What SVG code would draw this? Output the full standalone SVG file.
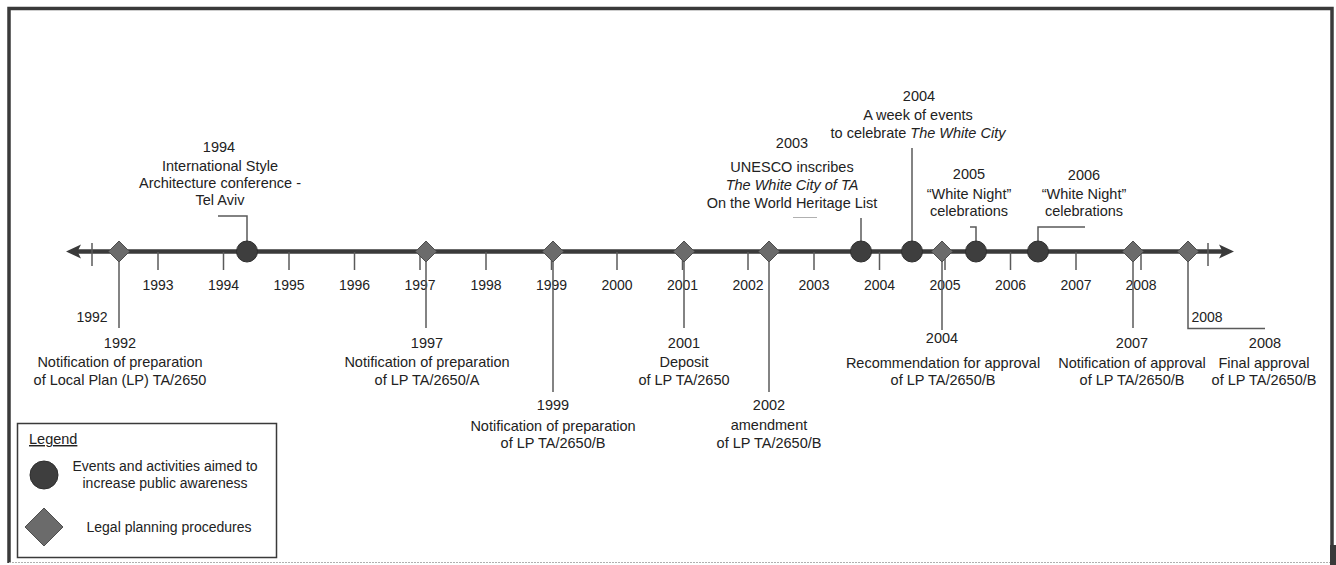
<svg xmlns="http://www.w3.org/2000/svg" width="1336" height="565" viewBox="0 0 1336 565">
  <style>
    text { font-family: "Liberation Sans", Arial, sans-serif; font-size: 14.5px; fill: #222222; text-anchor: middle; }
    .yr { font-size: 14px; }
    .it { font-style: italic; }
    .axis { stroke: #3a3a3a; stroke-width: 4.5; fill: none; }
    .tick { stroke: #5a5a5a; stroke-width: 1.5; }
    .lead { stroke: #5a5a5a; stroke-width: 1.5; fill: none; }
    .faint { stroke: #b0b0b0; stroke-width: 1; fill: none; }
    .legal { fill: #6b6b6b; stroke: #4e4e4e; stroke-width: 1; }
    .event { fill: #3e3e3e; stroke: #2e2e2e; stroke-width: 1; }
    .frame { fill: none; stroke: #3a3a3a; }
  </style>
  <defs>
    <path id="diamond" d="M0,-10.5 L10.5,0 L0,10.5 L-10.5,0 Z"/>
  </defs>

  <rect width="1336" height="565" fill="#ffffff"/>

  <!-- outer frame -->
  <g id="frame">
    <path class="frame" stroke-width="3.5" d="M9,563 L9,8.5 L1332,8.5 L1332,545"/>
    <line class="faint" x1="9" y1="562.5" x2="1330" y2="562.5" stroke-dasharray="2,1"/>
    <rect x="1330" y="545" width="6" height="20" fill="#3a3a3a"/>
  </g>

  <!-- time axis with year ticks -->
  <g id="axis">
    <line class="axis" x1="74" y1="251.5" x2="1226" y2="251.5"/>
    <path d="M66,251.5 L81,244.5 L77.5,251.5 L81,258.5 Z" fill="#3a3a3a"/>
    <path d="M1234,251.5 L1219,244.5 L1222.5,251.5 L1219,258.5 Z" fill="#3a3a3a"/>
    <line class="tick" x1="92" y1="243" x2="92" y2="266"/>
    <line class="tick" x1="1208" y1="243" x2="1208" y2="266"/>
    <g class="ticks">
      <line class="tick" x1="158" y1="252" x2="158" y2="270"/>
      <line class="tick" x1="223.5" y1="252" x2="223.5" y2="270"/>
      <line class="tick" x1="289" y1="252" x2="289" y2="270"/>
      <line class="tick" x1="354.5" y1="252" x2="354.5" y2="270"/>
      <line class="tick" x1="420" y1="252" x2="420" y2="270"/>
      <line class="tick" x1="486" y1="252" x2="486" y2="270"/>
      <line class="tick" x1="551.5" y1="252" x2="551.5" y2="270"/>
      <line class="tick" x1="617" y1="252" x2="617" y2="270"/>
      <line class="tick" x1="682.5" y1="252" x2="682.5" y2="270"/>
      <line class="tick" x1="748" y1="252" x2="748" y2="270"/>
      <line class="tick" x1="814" y1="252" x2="814" y2="270"/>
      <line class="tick" x1="879.5" y1="252" x2="879.5" y2="270"/>
      <line class="tick" x1="945" y1="252" x2="945" y2="270"/>
      <line class="tick" x1="1010.5" y1="252" x2="1010.5" y2="270"/>
      <line class="tick" x1="1076" y1="252" x2="1076" y2="270"/>
      <line class="tick" x1="1141" y1="252" x2="1141" y2="270"/>
    </g>
    <g class="years">
      <text class="yr" x="158" y="290">1993</text>
      <text class="yr" x="223.5" y="290">1994</text>
      <text class="yr" x="289" y="290">1995</text>
      <text class="yr" x="354.5" y="290">1996</text>
      <text class="yr" x="420" y="290">1997</text>
      <text class="yr" x="486" y="290">1998</text>
      <text class="yr" x="551.5" y="290">1999</text>
      <text class="yr" x="617" y="290">2000</text>
      <text class="yr" x="682.5" y="290">2001</text>
      <text class="yr" x="748" y="290">2002</text>
      <text class="yr" x="814" y="290">2003</text>
      <text class="yr" x="879.5" y="290">2004</text>
      <text class="yr" x="945" y="290">2005</text>
      <text class="yr" x="1010.5" y="290">2006</text>
      <text class="yr" x="1076" y="290">2007</text>
      <text class="yr" x="1141" y="290">2008</text>
      <text class="yr" x="92" y="322">1992</text>
      <text class="yr" x="1207" y="322">2008</text>
    </g>
  </g>

  <!-- leader lines -->
  <g id="connectors">
    <polyline class="lead" points="119,251 119,328"/>
    <polyline class="lead" points="247,245 247,216 218,216"/>
    <polyline class="lead" points="426,251 426,328"/>
    <polyline class="lead" points="553,251 553,392"/>
    <polyline class="lead" points="684,251 684,328"/>
    <polyline class="lead" points="769,251 769,392"/>
    <polyline class="lead" points="861,245 861,218"/>
    <line class="faint" x1="793" y1="217.5" x2="817" y2="217.5"/>
    <polyline class="lead" points="912,245 912,148"/>
    <polyline class="lead" points="976,245 976,227 970,227"/>
    <polyline class="lead" points="1038,245 1038,227 1085,227"/>
    <polyline class="lead" points="942,251 942,330"/>
    <polyline class="lead" points="1133,251 1133,328"/>
    <polyline class="lead" points="1188,251 1188,328.5 1265,328.5"/>
  </g>

  <!-- legal planning procedures -->
  <g id="n1992">
    <use href="#diamond" class="legal" x="119" y="251.5"/>
    <text x="120" y="348">1992</text>
    <text x="120" y="367">Notification of preparation</text>
    <text x="120" y="385">of Local Plan (LP) TA/2650</text>
  </g>
  <g id="n1997">
    <use href="#diamond" class="legal" x="426" y="251.5"/>
    <text x="427" y="348">1997</text>
    <text x="427" y="367">Notification of preparation</text>
    <text x="427" y="385">of LP TA/2650/A</text>
  </g>
  <g id="n1999">
    <use href="#diamond" class="legal" x="553" y="251.5"/>
    <text x="553" y="410">1999</text>
    <text x="553" y="431">Notification of preparation</text>
    <text x="553" y="448">of LP TA/2650/B</text>
  </g>
  <g id="n2001">
    <use href="#diamond" class="legal" x="684" y="251.5"/>
    <text x="684" y="348">2001</text>
    <text x="684" y="367">Deposit</text>
    <text x="684" y="385">of LP TA/2650</text>
  </g>
  <g id="n2002">
    <use href="#diamond" class="legal" x="769" y="251.5"/>
    <text x="769" y="410">2002</text>
    <text x="769" y="430">amendment</text>
    <text x="769" y="448">of LP TA/2650/B</text>
  </g>
  <g id="n2004b">
    <use href="#diamond" class="legal" x="942" y="251.5"/>
    <text x="942" y="343">2004</text>
    <text x="943" y="368">Recommendation for approval</text>
    <text x="943" y="385">of LP TA/2650/B</text>
  </g>
  <g id="n2007">
    <use href="#diamond" class="legal" x="1133" y="251.5"/>
    <text x="1132" y="348">2007</text>
    <text x="1132" y="368">Notification of approval</text>
    <text x="1132" y="385">of LP TA/2650/B</text>
  </g>
  <g id="n2008">
    <use href="#diamond" class="legal" x="1188" y="251.5"/>
    <text x="1265" y="348">2008</text>
    <text x="1264" y="368">Final approval</text>
    <text x="1264" y="385">of LP TA/2650/B</text>
  </g>

  <!-- public awareness events -->
  <g id="e1994">
    <circle class="event" cx="247" cy="251.5" r="10.5"/>
    <text x="219" y="152">1994</text>
    <text x="220" y="171">International Style</text>
    <text x="220" y="188">Architecture conference -</text>
    <text x="220" y="205">Tel Aviv</text>
  </g>
  <g id="e2003">
    <circle class="event" cx="861" cy="251.5" r="10.5"/>
    <text x="792" y="148">2003</text>
    <text x="792" y="172">UNESCO inscribes</text>
    <text x="792" y="190" class="it">The White City of TA</text>
    <text x="792" y="208">On the World Heritage List</text>
  </g>
  <g id="e2004">
    <circle class="event" cx="912" cy="251.5" r="10.5"/>
    <text x="919" y="101">2004</text>
    <text x="918" y="120">A week of events</text>
    <text x="918" y="138">to celebrate <tspan class="it">The White City</tspan></text>
  </g>
  <g id="e2005">
    <circle class="event" cx="976" cy="251.5" r="10.5"/>
    <text x="969" y="179">2005</text>
    <text x="969" y="199">“White Night”</text>
    <text x="969" y="216">celebrations</text>
  </g>
  <g id="e2006">
    <circle class="event" cx="1038" cy="251.5" r="10.5"/>
    <text x="1084" y="180">2006</text>
    <text x="1084" y="199">“White Night”</text>
    <text x="1084" y="216">celebrations</text>
  </g>

  <!-- legend -->
  <g id="legend">
    <rect x="17.5" y="423.5" width="259" height="134" fill="#ffffff" stroke="#3a3a3a" stroke-width="1.5"/>
    <text x="29" y="444" style="text-anchor:start" text-decoration="underline">Legend</text>
    <circle class="event" cx="44" cy="475" r="14"/>
    <text x="165" y="471" style="font-size:14px">Events and activities aimed to</text>
    <text x="165" y="488" style="font-size:14px">increase public awareness</text>
    <path class="legal" d="M44,508 L63,527 L44,546 L25,527 Z"/>
    <text x="169" y="532" style="font-size:14px">Legal planning procedures</text>
  </g>
</svg>
